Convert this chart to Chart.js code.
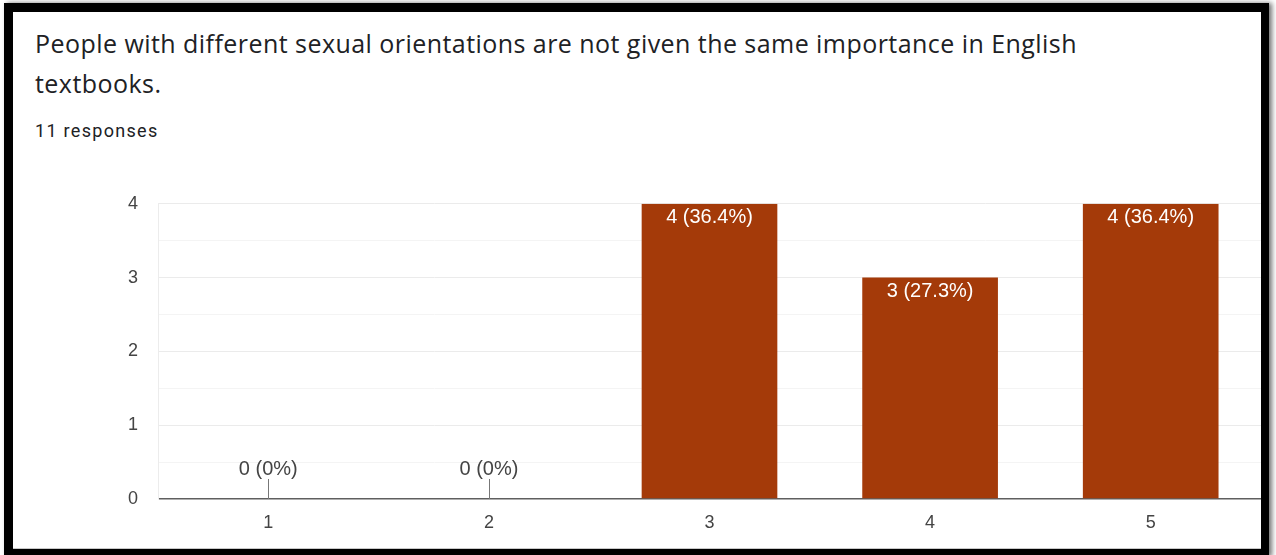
<!DOCTYPE html>
<html>
<head>
<meta charset="utf-8">
<script src="https://cdn.jsdelivr.net/npm/chart.js@4/dist/chart.umd.min.js"></script>
<style>
    html, body { margin: 0; padding: 0; background: #fff; overflow: hidden; }
    body { width: 1276px; height: 555px; position: relative; }
    .frame {
        position: absolute; left: 4px; top: 3px;
        width: 1248px; height: 537px;
        border-style: solid; border-color: #000;
        border-width: 9px 8px 8px 9px;
        box-shadow: 3px 0 5px rgba(0, 0, 0, 0.55);
    }
    .card {
        position: absolute; left: 0; top: 0; right: 0; bottom: 0;
        background: #fff; border-bottom: 1px solid #c8c8c8;
    }
    .title {
        position: absolute; left: 22px; top: 11px;
        font-family: "Open Sans", Roboto, sans-serif;
        font-size: 25px; line-height: 40px; color: #202124;
        letter-spacing: 0.45px;
        white-space: nowrap;
    }
    .count {
        position: absolute; left: 22px; top: 109px;
        font-family: Roboto, sans-serif;
        font-size: 18px; line-height: 20px; color: #202124;
        letter-spacing: 1.3px;
    }
    .chart-box {
        position: absolute; left: 0; top: 161px;
        width: 1248px; height: 376px;
    }
</style>
</head>
<body>
<div class="frame">
    <div class="card">
        <div class="title">People with different sexual orientations are not given the same importance in English<br>textbooks.</div>
        <div class="count">11 responses</div>
        <div class="chart-box"><canvas id="scaleChart"></canvas></div>
    </div>
</div>
<script>
// Answers on the 1-5 scale and how many people picked each
const categories = ['1', '2', '3', '4', '5'];
const counts = [0, 0, 4, 3, 4];
const totalResponses = 11;
const yTicks = [0, 1, 2, 3, 4];

const BAR_COLOR = '#a43a09';

function pctLabel(v) {
    const p = v / totalResponses * 100;
    const txt = Number.isInteger(p) ? String(p) : p.toFixed(1);
    return v + ' (' + txt + '%)';
}

// Value labels: white text inside the bar top, or a small stem + label for zero bars
const barLabels = {
    id: 'barLabels',
    afterDatasetsDraw(chart) {
        const ctx = chart.ctx;
        const yScale = chart.scales.y;
        const meta = chart.getDatasetMeta(0);
        const zeroY = yScale.getPixelForValue(0);
        ctx.save();
        ctx.font = '20px "Liberation Sans", Arial, sans-serif';
        ctx.textAlign = 'center';
        meta.data.forEach((bar, i) => {
            const v = counts[i];
            if (v > 0) {
                ctx.fillStyle = '#ffffff';
                ctx.textBaseline = 'top';
                ctx.fillText(pctLabel(v), bar.x, bar.y + 4);
            } else {
                ctx.strokeStyle = '#777';
                ctx.lineWidth = 1;
                ctx.beginPath();
                ctx.moveTo(Math.round(bar.x) + 0.5, zeroY - 20);
                ctx.lineTo(Math.round(bar.x) + 0.5, zeroY);
                ctx.stroke();
                ctx.fillStyle = '#444';
                ctx.textBaseline = 'bottom';
                ctx.fillText(pctLabel(v), bar.x, zeroY - 20);
            }
        });
        ctx.restore();
    }
};

new Chart(document.getElementById('scaleChart').getContext('2d'), {
    type: 'bar',
    data: {
        labels: categories,
        datasets: [{
            data: counts,
            backgroundColor: BAR_COLOR,
            categoryPercentage: 1,
            barPercentage: 0.615
        }]
    },
    options: {
        responsive: true,
        maintainAspectRatio: false,
        animation: false,
        layout: { padding: { top: 10, right: 0, left: 0, bottom: 0 } },
        plugins: {
            legend: { display: false },
            tooltip: { enabled: false }
        },
        scales: {
            x: {
                grid: { display: false, drawTicks: false },
                border: { display: false },
                ticks: {
                    padding: 13,
                    color: '#444',
                    font: { family: '"Liberation Sans", Arial, sans-serif', size: 18 }
                },
                afterFit(scale) { scale.height = 50; }
            },
            y: {
                min: 0,
                max: 4,
                afterBuildTicks(scale) {
                    // half-step grid lines, labels only on whole numbers
                    const t = [];
                    yTicks.forEach((v, i) => {
                        t.push({ value: v });
                        if (i < yTicks.length - 1) t.push({ value: v + 0.5 });
                    });
                    scale.ticks = t;
                },
                grid: {
                    drawTicks: false,
                    color: c => c.tick.value === 0 ? '#5f5f5f'
                        : (Number.isInteger(c.tick.value) ? '#ebebeb' : '#f4f4f4'),
                    lineWidth: c => c.tick.value === 0 ? 1.5 : 1
                },
                border: { display: true, color: '#ececec' },
                ticks: {
                    padding: 20,
                    color: '#444',
                    font: { family: '"Liberation Sans", Arial, sans-serif', size: 18 },
                    callback: v => Number.isInteger(v) ? v : ''
                },
                afterFit(scale) { scale.width = 145; }
            }
        }
    },
    plugins: [barLabels]
});
</script>
</body>
</html>
